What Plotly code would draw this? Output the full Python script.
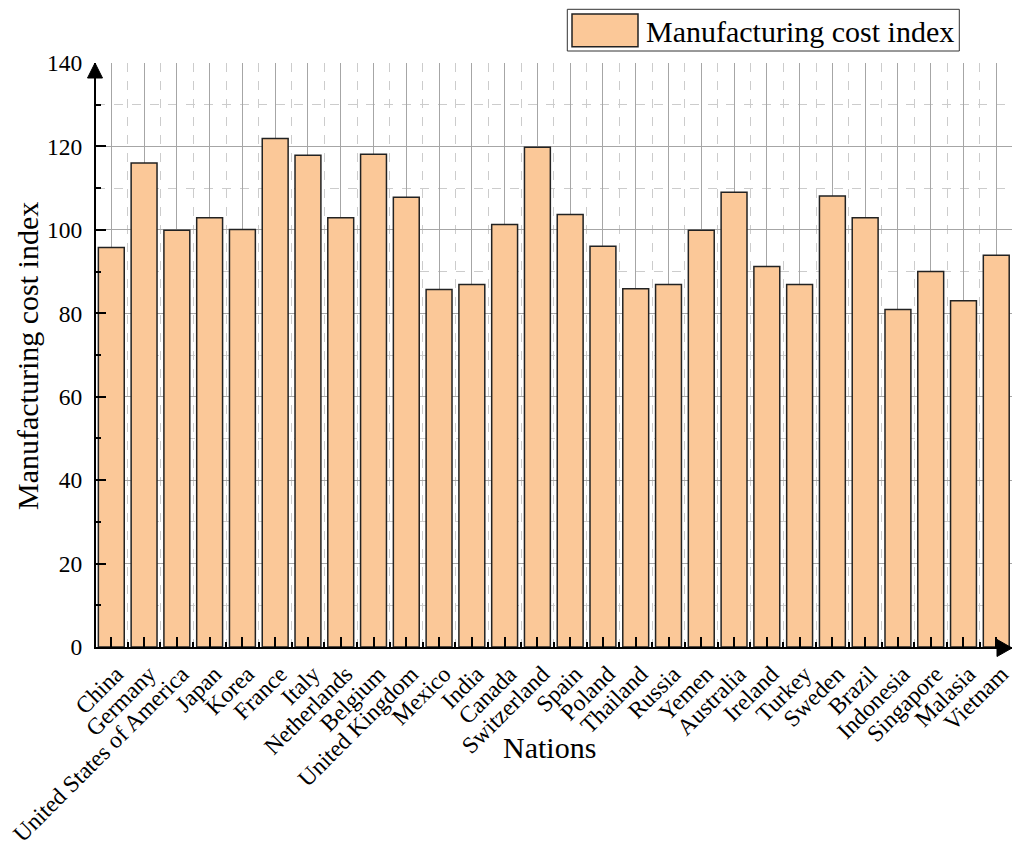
import plotly.graph_objects as go

countries = ["China", "Germany", "United States of America", "Japan", "Korea", "France",
             "Italy", "Netherlands", "Belgium", "United Kingdom", "Mexico", "India",
             "Canada", "Switzerland", "Spain", "Poland", "Thailand", "Russia", "Yemen",
             "Australia", "Ireland", "Turkey", "Sweden", "Brazil", "Indonesia",
             "Singapore", "Malasia", "Vietnam"]
values = [95.8, 116.0, 99.9, 102.9, 100.1, 121.9, 117.9, 102.9, 118.1, 107.8, 85.7, 86.9,
          101.3, 119.8, 103.7, 96.1, 85.9, 86.9, 99.9, 109.0, 91.2, 86.9, 108.1, 102.9,
          80.9, 90.0, 83.0, 93.9]
y_ticks = [0, 20, 40, 60, 80, 100, 120, 140]
y_minor = [10, 30, 50, 70, 90, 110, 130]
series_name = "Manufacturing cost index"
x_title = "Nations"
y_title = "Manufacturing cost index"

BAR_COLOR = "rgb(251,200,152)"
EDGE = "#222222"
FONT = "Liberation Serif, Times New Roman, serif"

W, H = 1012, 850
L, R, T, B = 96, 0, 63, 203
PW, PH = W - L - R, H - T - B


def px(x):
    return (x - L) / PW


def py(y):
    return (H - B - y) / PH


idx = list(range(len(countries)))
minor_x = [i + 0.5 for i in idx[:-1]] + [-0.5]

fig = go.Figure()
fig.add_trace(go.Bar(
    x=idx, y=values, name=series_name, width=0.79,
    marker=dict(color=BAR_COLOR, line=dict(color=EDGE, width=1.5)),
    showlegend=False,
))

fig.update_layout(
    width=W, height=H,
    margin=dict(l=L, r=R, t=T, b=B, autoexpand=False),
    paper_bgcolor="white", plot_bgcolor="white",
    font=dict(family=FONT, color="black", size=23),
    bargap=0.2,
)

fig.update_xaxes(
    range=[-0.467, 27.48], tickmode="array", tickvals=idx, ticktext=countries,
    tickangle=-45, tickfont=dict(size=23.5, family=FONT, color="black"),
    showline=True, linecolor="black", linewidth=2,
    ticks="inside", ticklen=10, tickwidth=2, tickcolor="black",
    showgrid=True, gridcolor="#a6a6a6", gridwidth=1,
    zeroline=False,
    minor=dict(tickmode="array", tickvals=minor_x, ticks="inside", ticklen=5,
               tickwidth=2, tickcolor="black", showgrid=True, gridcolor="#cccccc",
               gridwidth=1, griddash="dash"),
    ticklabelstandoff=2,
    ticklabelshift=5,
    ticklabeloverflow="allow",
)
fig.update_yaxes(
    range=[0, 140], tickmode="array", tickvals=y_ticks,
    tickfont=dict(size=23.5, family=FONT, color="black"),
    showline=True, linecolor="black", linewidth=2,
    ticks="inside", ticklen=10, tickwidth=2, tickcolor="black",
    showgrid=True, gridcolor="#a6a6a6", gridwidth=1,
    zeroline=False,
    minor=dict(tickmode="array", tickvals=y_minor, ticks="inside", ticklen=5,
               tickwidth=2, tickcolor="black", showgrid=True, gridcolor="#cccccc",
               gridwidth=1, griddash="dash"),
    ticklabelstandoff=7,
    ticklabeloverflow="allow",
)

shapes = [
    # y-axis arrow head
    dict(type="path", xref="paper", yref="paper", xsizemode="pixel", ysizemode="pixel",
         xanchor=0, yanchor=1, path="M -8.5,-15 L -1,0 L 6.5,-15 Z",
         fillcolor="black", line=dict(color="black", width=1)),
    # x-axis arrow head
    dict(type="path", xref="paper", yref="paper", xsizemode="pixel", ysizemode="pixel",
         xanchor=1, yanchor=0, path="M -15,7.5 L 0,-1 L -15,-9.5 Z",
         fillcolor="black", line=dict(color="black", width=1)),
    # legend box
    dict(type="rect", xref="paper", yref="paper", x0=px(567.3), x1=px(959.3),
         y0=py(51), y1=py(9.3), fillcolor="white", line=dict(color="#333333", width=1)),
    dict(type="rect", xref="paper", yref="paper", x0=px(572), x1=px(638),
         y0=py(46.7), y1=py(14), fillcolor=BAR_COLOR, line=dict(color=EDGE, width=1.5)),
]
fig.update_layout(shapes=shapes)

annotations = [
    dict(text=series_name, xref="paper", yref="paper", x=px(644), y=py(31),
         xanchor="left", yanchor="middle", showarrow=False,
         font=dict(size=30, family=FONT, color="black")),
    dict(text=x_title, xref="paper", yref="paper", x=px(549), y=py(747),
         xanchor="center", yanchor="middle", showarrow=False,
         font=dict(size=30, family=FONT, color="black")),
    dict(text=y_title, xref="paper", yref="paper", x=px(27), y=py(356),
         xanchor="center", yanchor="middle", showarrow=False, textangle=-90,
         font=dict(size=30, family=FONT, color="black")),
]
fig.update_layout(annotations=annotations)

fig.write_html("out.html")
